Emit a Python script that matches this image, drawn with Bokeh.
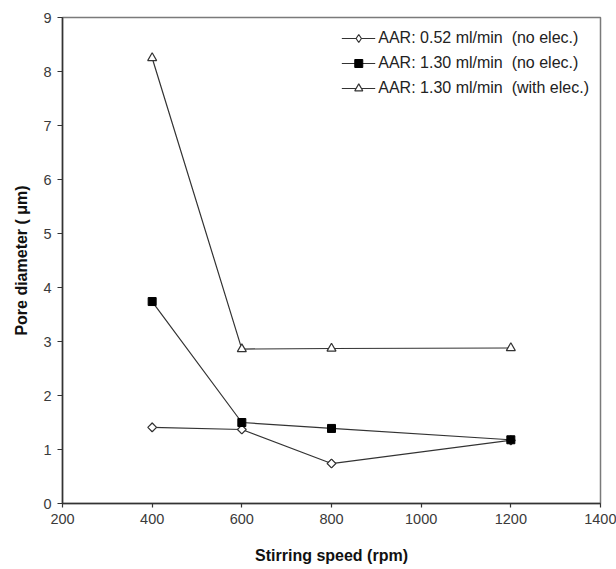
from bokeh.plotting import figure
from bokeh.models import FixedTicker, Range1d, Legend, LegendItem
from bokeh.embed import file_html
from bokeh.resources import INLINE
import math

speed = [400, 600, 800, 1200]
aar052_noelec = [1.41, 1.37, 0.74, 1.17]
aar130_noelec = [3.74, 1.50, 1.39, 1.18]
aar130_elec = [8.25, 2.86, 2.87, 2.88]
labels = ["AAR: 0.52 ml/min  (no elec.)",
          "AAR: 1.30 ml/min  (no elec.)",
          "AAR: 1.30 ml/min  (with elec.)"]
x_ticks = [200, 400, 600, 800, 1000, 1200, 1400]
y_ticks = [0, 1, 2, 3, 4, 5, 6, 7, 8, 9]

p = figure(width=616, height=569, output_backend="svg", toolbar_location=None,
           x_range=Range1d(200, 1400), y_range=Range1d(0, 9),
           min_border_left=62, min_border_right=16, min_border_top=17, min_border_bottom=66)
p.background_fill_color = "white"
p.border_fill_color = "white"
p.outline_line_color = "#7a7a7a"
p.outline_line_width = 1.5
p.xgrid.visible = False
p.ygrid.visible = False

FONT = "Liberation Sans"
LC = "#333333"

for ax in (p.xaxis[0], p.yaxis[0]):
    ax.axis_line_color = "#333333"
    ax.axis_line_width = 1.5
    ax.major_tick_line_color = "#333333"
    ax.major_tick_line_width = 1.2
    ax.minor_tick_line_color = None
    ax.major_tick_in = 0
    ax.major_label_text_font = FONT
    ax.major_label_text_font_size = "14.5px"
    ax.major_label_text_color = "#3a3a3a"
    ax.axis_label_text_font = FONT
    ax.axis_label_text_font_size = "16px"
    ax.axis_label_text_font_style = "bold"
    ax.axis_label_text_color = "#111111"

p.xaxis.ticker = FixedTicker(ticks=x_ticks)
p.yaxis.ticker = FixedTicker(ticks=y_ticks)
p.xaxis.major_tick_out = 4
p.yaxis.major_tick_out = 5
p.xaxis.major_label_standoff = 6
p.yaxis.major_label_standoff = 6
p.xaxis.axis_label = "Stirring speed (rpm)"
p.yaxis.axis_label = "Pore diameter ( μm)"
p.xaxis.axis_label_standoff = 20
p.yaxis.axis_label_standoff = 10

l1 = p.line(speed, aar052_noelec, line_color=LC, line_width=1.2)
# diamond swatch for the legend (drawn underneath the rotated squares)
m1_legend = p.scatter(speed, aar052_noelec, marker="diamond", size=8.5,
                      fill_color="white", line_color=LC, line_width=1.2)
m1 = p.scatter(speed, aar052_noelec, marker="square", angle=math.pi / 4, size=6.2,
               fill_color="white", line_color=LC, line_width=1.2)
l2 = p.line(speed, aar130_noelec, line_color=LC, line_width=1.2)
m2 = p.scatter(speed, aar130_noelec, marker="square", size=8,
               fill_color="black", line_color="black", line_width=1)
l3 = p.line(speed, aar130_elec, line_color=LC, line_width=1.2)
m3 = p.scatter(speed, aar130_elec, marker="triangle", size=9,
               fill_color="white", line_color=LC, line_width=1.2)

legend = Legend(items=[LegendItem(label=labels[0], renderers=[l1, m1_legend]),
                       LegendItem(label=labels[1], renderers=[l2, m2]),
                       LegendItem(label=labels[2], renderers=[l3, m3])],
                location="top_right")
legend.border_line_color = None
legend.background_fill_alpha = 0
legend.label_text_font = FONT
legend.label_text_font_size = "16px"
legend.label_text_color = "#222222"
legend.glyph_width = 34
legend.glyph_height = 20
legend.label_height = 20
legend.label_standoff = 3
legend.spacing = 5
legend.padding = 0
legend.margin = 11
p.add_layout(legend)

open("out.html", "w").write(file_html(p, INLINE))
